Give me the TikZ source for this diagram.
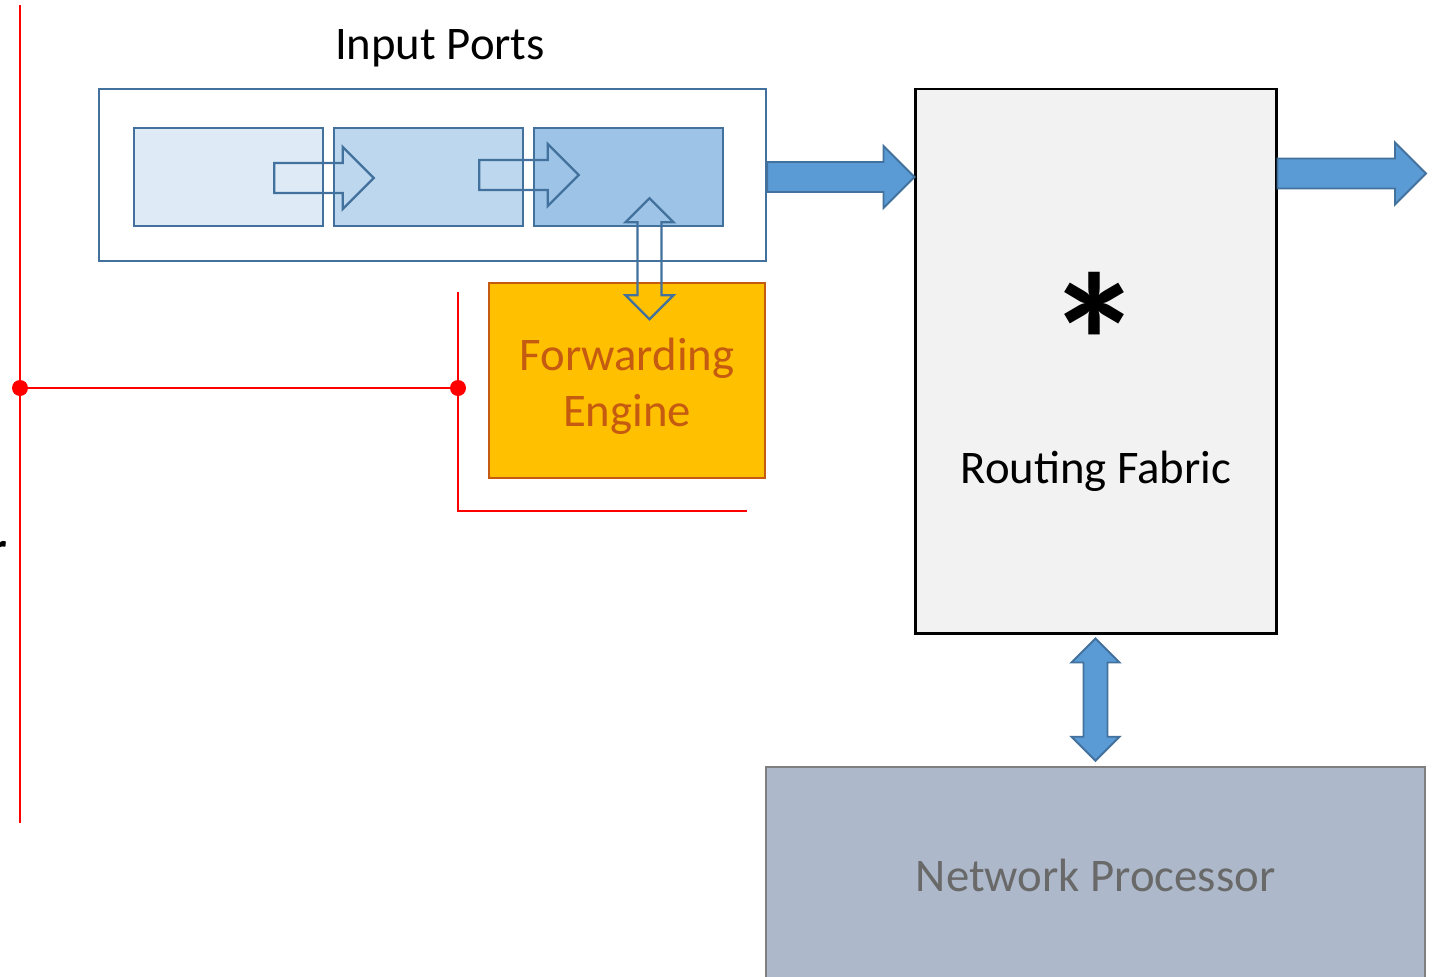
\documentclass[tikz,border=0pt]{standalone}
\usepackage{fontspec}
\setmainfont{Carlito}
\usepackage{xcolor}
\usetikzlibrary{calc}
\definecolor{portline}{RGB}{65,113,156}
\definecolor{queueA}{RGB}{222,235,247}
\definecolor{queueB}{RGB}{189,215,238}
\definecolor{queueC}{RGB}{157,195,230}
\definecolor{flow}{RGB}{91,155,213}
\definecolor{engine}{RGB}{255,192,0}
\definecolor{engineline}{RGB}{197,90,17}
\definecolor{fabric}{RGB}{242,242,242}
\definecolor{processor}{RGB}{173,185,202}
\definecolor{processorline}{RGB}{127,127,127}
\definecolor{processortext}{RGB}{105,105,105}
\definecolor{marker}{RGB}{255,0,0}
\newcommand{\pxl}{0.02cm}
\newcommand{\labelfont}{\fontsize{26.6}{31.8}\selectfont}
\tikzstyle{box}=[rectangle, draw, inner sep=0pt]
\tikzset{queue/.style={box, draw=portline, line width=1.4pt, minimum width=189*\pxl, minimum height=98*\pxl}}
\tikzset{label/.style={inner sep=0pt, font=\labelfont}}
\tikzset{reddot/.style={circle, fill=marker, inner sep=0pt, minimum size=16*\pxl}}
\tikzset{redline/.style={draw=marker, line width=0.8pt}}
\tikzset{redthick/.style={draw=marker, line width=1.7pt}}
\tikzset{hollow/.style={draw=portline, line width=1.3pt}}
\tikzset{solid flow/.style={draw=portline, fill=flow, line width=1.1pt}}
%% right pointing block arrow, start = middle of shaft end, target = tip
\tikzset{rarrow/.style={to path={
  ($(\tikztostart)+(0,-15)$) -- ($(\tikztotarget)+(-31,-15)$) -- ($(\tikztotarget)+(-31,-31)$)
  -- (\tikztotarget) -- ($(\tikztotarget)+(-31,31)$) -- ($(\tikztotarget)+(-31,15)$)
  -- ($(\tikztostart)+(0,15)$) -- cycle}}}
%% up/down block arrow, start = upper tip, target = lower tip
\tikzset{udarrow/.style={to path={
  (\tikztostart) -- ($(\tikztostart)+(24,24)$) -- ($(\tikztostart)+(12,24)$)
  -- ($(\tikztotarget)+(12,-24)$) -- ($(\tikztotarget)+(24,-24)$) -- (\tikztotarget)
  -- ($(\tikztotarget)+(-24,-24)$) -- ($(\tikztotarget)+(-12,-24)$)
  -- ($(\tikztostart)+(-12,24)$) -- ($(\tikztostart)+(-24,24)$) -- cycle}}}

\begin{document}
\begin{tikzpicture}[x=0.02cm, y=-0.02cm]
  \useasboundingbox (0,0) rectangle (1437,977);

  %% Input ports
  \draw (440,48) node[label] (inlabel) {Input Ports};
  \draw (432.5,175) node[box, draw=portline, fill=white, line width=1.2pt, minimum width=667*\pxl, minimum height=172*\pxl] (inports) {};
  \draw (228.5,177) node[queue, fill=queueA] (q1) {};
  \draw (428.5,177) node[queue, fill=queueB] (q2) {};
  \draw (628.5,177) node[queue, fill=queueC] (q3) {};
  \draw[hollow, rarrow] ($(q1.east)+(-50,1)$) to ($(q2.west)+(41,1)$);
  \draw[hollow, rarrow] ($(q2.east)+(-45,-2)$) to ($(q3.west)+(46,-2)$);

  %% Forwarding engine
  \draw (627,380.5) node[box, draw=engineline, fill=engine, line width=1.3pt, minimum width=276*\pxl, minimum height=195*\pxl] (fe) {};
  \draw (627,386) node[label, align=center, text=engineline] (fetext) {Forwarding\\Engine};
  \draw[hollow, udarrow] ($(q3.south)+(21,-29)$) to ($(q3.south)+(21,92)$);

  %% Routing fabric
  \draw (1095.5,361) node[box, draw=black, fill=fabric, line width=1.7pt, minimum width=361*\pxl, minimum height=544*\pxl] (fabric) {};
  \draw (1095,341.5) node[inner sep=0pt, font=\fontsize{110}{110}\selectfont\bfseries] (star) {*};
  \draw (1096,471) node[label] (fablabel) {Routing Fabric};
  \coordinate (inA) at ($(inports.east)+(0,2)$);
  \coordinate (outA) at (fabric.west |- inA);
  \draw[solid flow, rarrow] (inA) to ($(outA)+(1,0)$);
  \coordinate (outB) at (1426,173.5);
  \draw[solid flow, rarrow] (fabric.east |- outB) to (outB);

  %% Network processor
  \draw (1095.5,875.5) node[box, draw=processorline, fill=processor, line width=1.4pt, minimum width=659*\pxl, minimum height=217*\pxl, text=processortext, font=\labelfont] (np) {Network Processor};
  \draw[solid flow, udarrow] ($(fabric.south)+(0,4)$) to ($(np.north)+(0,-5)$);

  %% Red marks
  \coordinate (rtop) at (20,5);
  \coordinate (rbot) at (20,823);
  \draw[redline] (rtop) -- (rbot);
  \draw (20,388) node[reddot] (d1) {};
  \draw (458,388) node[reddot] (d2) {};
  \draw[redthick] (d1) -- (d2);
  \coordinate (ra) at (458,292);
  \coordinate (rb) at (458,511);
  \coordinate (rc) at (747,511);
  \draw[redline] (ra) -- (rb) -- (rc);

  %% cut text at the left border
  \draw (7,564) node[label, anchor=base east, font=\labelfont\bfseries] (cut) {r};
\end{tikzpicture}
\end{document}
